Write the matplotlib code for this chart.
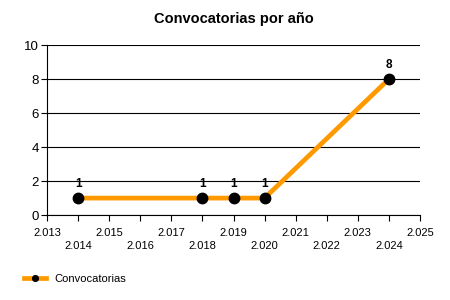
import matplotlib
matplotlib.use("Agg")
import matplotlib.pyplot as plt

plt.rcParams['font.family'] = ['Liberation Sans', 'DejaVu Sans']

# data
years = [2014, 2018, 2019, 2020, 2024]
counts = [1, 1, 1, 1, 8]
tick_years = list(range(2013, 2026))
series_name = "Convocatorias"
title = "Convocatorias por año"

fig = plt.figure(figsize=(4.5, 3), dpi=100)
ax = fig.add_axes([0.1044, 0.283, 0.829, 0.567])

ax.plot(years, counts, color='#FF9900', lw=3.4, marker='o', ms=7.5,
        mfc='black', mec='black', label=series_name, zorder=3, clip_on=False)

for x, y in zip(years, counts):
    ax.annotate(str(y), (x, y), xytext=(0, 6), textcoords='offset points',
                ha='center', va='bottom', fontsize=8.5, fontweight='bold')

ax.set_xlim(2013, 2025)
ax.set_ylim(0, 10)
ax.set_yticks(range(0, 11, 2))
ax.set_xticks(tick_years)
labels = []
for yr in tick_years:
    s = "{:,}".format(yr).replace(",", ".")
    labels.append(s if yr % 2 == 1 else "\n" + s)
ax.set_xticklabels(labels, fontsize=8, linespacing=1.4)
ax.tick_params(axis='y', labelsize=9.5, length=4, pad=2)
ax.tick_params(axis='x', length=4, pad=5)
ax.grid(axis='y', color='black', lw=0.8)
ax.set_axisbelow(True)
for s in ['top', 'right']:
    ax.spines[s].set_visible(False)

ax.set_title(title, fontsize=10.5, fontweight='bold', pad=16)

fig.legend(loc='lower left', bbox_to_anchor=(0.03, 0.02), frameon=False,
           fontsize=8, handlelength=2.0, markerscale=0.55)

fig.savefig("out.png", dpi=100)
